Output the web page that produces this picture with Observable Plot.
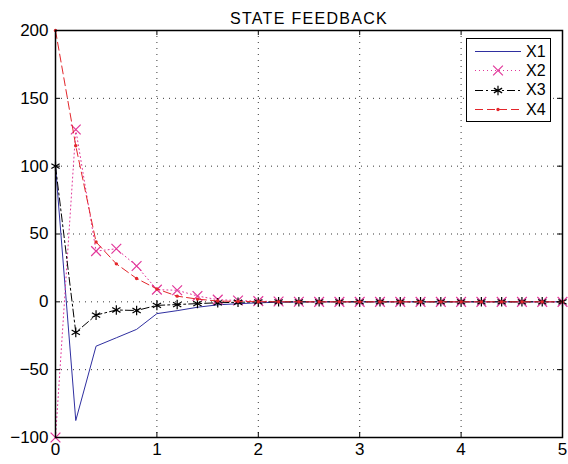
<!DOCTYPE html>
<html><head><meta charset="utf-8">
<script src="https://cdn.jsdelivr.net/npm/d3@7"></script>
<script src="https://cdn.jsdelivr.net/npm/@observablehq/plot@0.6"></script>
<style>
body{margin:0;background:#fff;}
#wrap{position:relative;width:568px;height:464px;font-family:"Liberation Sans",Arial,Helvetica,sans-serif;}
#legend{position:absolute;left:466px;top:38px;width:85px;height:84px;border:1.5px solid #000;box-sizing:border-box;background:#fff;padding-top:3px;}
.row{display:flex;align-items:center;height:19.3px;}
.row span{font-size:16px;margin-left:4px;color:#000;}
</style></head><body><div id="wrap"></div>
<script>
const title = "STATE FEEDBACK";
const time = [0,0.2,0.4,0.6,0.8,1.0,1.2,1.4,1.6,1.8,2.0,2.2,2.4,2.6,2.8,3.0,3.2,3.4,3.6,3.8,4.0,4.2,4.4,4.6,4.8,5.0];
const x1 = [100,-87.5,-32.7,-26.5,-20.3,-8.7,-6.5,-4.0,-2.2,-1.4,-0.7,-0.3,-0.1,0,0,0,0,0,0,0,0,0,0,0,0,0];
const x2 = [-100,127,37.4,39.1,26.4,9.0,8.5,4.3,1.6,1.0,0.5,0.2,0.1,0,0,0,0,0,0,0,0,0,0,0,0,0];
const x3 = [100,-22.5,-9.8,-6.0,-6.4,-2.6,-2.0,-1.3,-0.7,-0.3,-0.1,0,0,0,0,0,0,0,0,0,0,0,0,0,0,0];
const x4 = [200,115,44.1,28.0,17.2,9.5,4.2,2.0,0.6,0.3,0.1,0,0,0,0,0,0,0,0,0,0,0,0,0,0,0];
const seriesNames = ["X1","X2","X3","X4"];
const seriesValues = [x1,x2,x3,x4];
const seriesColors = ["#2f2fa0","#e2379a","#000000","#e3262b"];
const seriesDash = [null,"1,3","8,3,2,3","8,4"];
const seriesSymbols = [null,"times","asterisk","circle"];
const xTicks = [0,1,2,3,4,5];
const yTicks = [-100,-50,0,50,100,150,200];

const W = 568, H = 464, mL = 55, mR = 6, mT = 30, mB = 27;
const pw = W - mL - mR, ph = H - mT - mB;
const fmt = d => d < 0 ? "\u2212" + Math.abs(d) : String(d);

const marks = [
  Plot.gridX(xTicks, {stroke:"#222", strokeOpacity:0.9, strokeDasharray:"1,5"}),
  Plot.gridY(yTicks, {stroke:"#222", strokeOpacity:0.9, strokeDasharray:"1,5"})
];
seriesNames.forEach((name, i) => {
  const rows = time.map((t, j) => ({t, v: seriesValues[i][j]}));
  marks.push(Plot.line(rows, {x:"t", y:"v", stroke: seriesColors[i], strokeWidth:1, strokeDasharray: seriesDash[i] || undefined}));
  if (seriesSymbols[i] === "circle") {
    marks.push(Plot.dot(rows, {x:"t", y:"v", r:1.7, fill: seriesColors[i], stroke:"none"}));
  } else if (seriesSymbols[i]) {
    marks.push(Plot.dot(rows, {x:"t", y:"v", r:4.5, symbol: seriesSymbols[i], stroke: seriesColors[i], fill:"none", strokeWidth:1.2}));
  }
});
marks.push(
  Plot.tickX(xTicks, {x: d => d, insetTop: ph - 5, stroke:"#000"}),
  Plot.tickX(xTicks, {x: d => d, insetBottom: ph - 5, stroke:"#000"}),
  Plot.tickY(yTicks, {y: d => d, insetRight: pw - 5, stroke:"#000"}),
  Plot.tickY(yTicks, {y: d => d, insetLeft: pw - 5, stroke:"#000"}),
  Plot.frame({stroke:"#000", strokeWidth:1.5}),
  Plot.axisX(xTicks, {tickSize:0, tickPadding:5, tickFormat: fmt, fontSize:17, label:null}),
  Plot.axisY(yTicks, {tickSize:0, tickPadding:7, tickFormat: fmt, fontSize:17, label:null}),
  Plot.text([title], {frameAnchor:"top", dy:-18, fontSize:16, text: d => d})
);

const chart = Plot.plot({
  width: W, height: H,
  marginLeft: mL, marginRight: mR, marginTop: mT, marginBottom: mB,
  style: {fontFamily:'"Liberation Sans",Arial,Helvetica,sans-serif', color:"#000", background:"#fff"},
  x: {domain:[0,5], label:null},
  y: {domain:[-100,200], label:null},
  marks
});
chart.querySelectorAll("text").forEach(t => { if (t.textContent === title) t.style.letterSpacing = "1.3px"; });
const wrap = document.getElementById("wrap");
wrap.appendChild(chart);

const legend = document.createElement("div");
legend.id = "legend";
seriesNames.forEach((name, i) => {
  const row = document.createElement("div");
  row.className = "row";
  const ns = "http://www.w3.org/2000/svg";
  const svg = document.createElementNS(ns, "svg");
  svg.setAttribute("width", 55); svg.setAttribute("height", 19);
  const line = document.createElementNS(ns, "line");
  line.setAttribute("x1", 8); line.setAttribute("x2", 54);
  line.setAttribute("y1", 9.5); line.setAttribute("y2", 9.5);
  line.setAttribute("stroke", seriesColors[i]);
  if (seriesDash[i]) line.setAttribute("stroke-dasharray", seriesDash[i]);
  svg.appendChild(line);
  if (seriesSymbols[i]) {
    const p = document.createElementNS(ns, "path");
    const sym = {times: d3.symbolTimes, asterisk: d3.symbolAsterisk, circle: d3.symbolCircle}[seriesSymbols[i]];
    const r = seriesSymbols[i] === "circle" ? 1.7 : 4.5;
    p.setAttribute("d", d3.symbol(sym, Math.PI * r * r)());
    p.setAttribute("transform", "translate(31,9.5)");
    if (seriesSymbols[i] === "circle") { p.setAttribute("fill", seriesColors[i]); }
    else { p.setAttribute("fill", "none"); p.setAttribute("stroke", seriesColors[i]); p.setAttribute("stroke-width", 1.2); }
    svg.appendChild(p);
  }
  row.appendChild(svg);
  const lab = document.createElement("span");
  lab.textContent = name;
  row.appendChild(lab);
  legend.appendChild(row);
});
wrap.appendChild(legend);
</script></body></html>
